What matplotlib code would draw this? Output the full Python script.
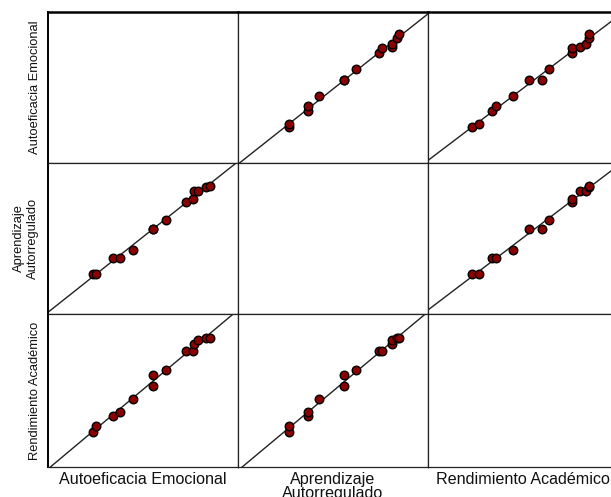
import numpy as np
import matplotlib
matplotlib.use("Agg")
import matplotlib.pyplot as plt

variables = ["Autoeficacia Emocional", "Aprendizaje\nAutorregulado", "Rendimiento Académico"]

autoeficacia = [23.7, 25.5, 34.2, 38.0, 44.7, 55.1, 55.1, 62.1, 72.6, 76.1, 77.0, 79.0, 83.1, 85.2]
aprendizaje  = [26.7, 26.7, 37.1, 37.1, 42.7, 56.0, 56.0, 62.2, 74.2, 76.0, 81.3, 81.3, 83.8, 84.9]
rendimiento  = [23.1, 27.0, 33.6, 35.8, 44.6, 60.0, 53.2, 63.7, 76.0, 75.8, 80.2, 82.9, 84.6, 84.6]

data = [np.array(autoeficacia), np.array(aprendizaje), np.array(rendimiento)]
lims = (0, 100)

W, H = 611, 497
fig = plt.figure(figsize=(W / 100, H / 100), dpi=100)

col_left = [48, 238, 428]
col_w = 190
row_top = [12, 163, 314]
row_h = [151, 151, 153]

for i in range(3):
    for j in range(3):
        ax = fig.add_axes([col_left[j] / W, 1 - (row_top[i] + row_h[i]) / H,
                           col_w / W, row_h[i] / H])
        ax.set_xlim(lims)
        ax.set_ylim(lims)
        ax.set_xticks([])
        ax.set_yticks([])
        for s in ax.spines.values():
            s.set_linewidth(0.9)
            s.set_color("#222222")
        if i == 0:
            ax.spines["top"].set_linewidth(1.8)
            ax.spines["top"].set_color("black")
        if j == 0:
            ax.spines["left"].set_linewidth(1.4)
            ax.spines["left"].set_color("black")
        if i != j:
            x = data[j]
            y = data[i]
            b, a = np.polyfit(x, y, 1)
            xx = np.array(lims, dtype=float)
            ax.plot(xx, a + b * xx, color="#222222", lw=1.0, zorder=1)
            ax.scatter(x, y, s=38, facecolor="#8B0000", edgecolor="black",
                       linewidth=1.0, zorder=2)

font = "Liberation Sans"
# y labels
ylab_x = [35, 26, 35]
for i in range(3):
    cy = row_top[i] + row_h[i] / 2
    fig.text(ylab_x[i] / W, 1 - cy / H, variables[i], rotation=90,
             ha="center", va="center", fontsize=9.3, family=font,
             color="#111111", linespacing=1.3)
# x labels
for j in range(3):
    cx = col_left[j] + col_w / 2
    fig.text(cx / W, 1 - 472 / H, variables[j], ha="center", va="top",
             fontsize=11.6, family=font, color="#111111", linespacing=0.9)

fig.savefig("out.png", dpi=100)
